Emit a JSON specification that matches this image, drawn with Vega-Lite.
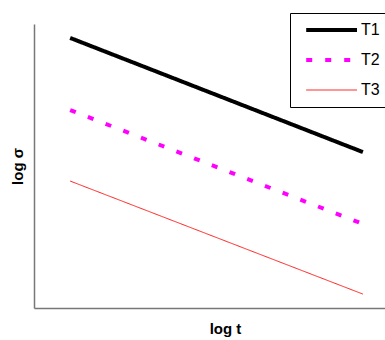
{
  "$schema": "https://vega.github.io/schema/vega-lite/v6.json",
  "width": 351,
  "height": 284,
  "autosize": "none",
  "padding": {"left": 34, "top": 24, "right": 0, "bottom": 32},
  "background": "white",
  "config": {
    "view": {"stroke": null},
    "font": "Liberation Sans",
    "axis": {"grid": false, "ticks": false, "labels": false, "domainColor": "#777777", "domainWidth": 1.5, "titleFont": "Liberation Sans", "titleFontWeight": "bold", "titleFontSize": 15, "titleColor": "black"},
    "legend": {"title": null, "orient": "none", "legendX": 256, "legendY": -11, "strokeColor": "black", "padding": 9, "symbolType": "M-0.2,0H12.5", "symbolSize": 64, "labelFontSize": 16, "labelFont": "Liberation Sans", "labelColor": "black", "labelOffset": 46, "rowPadding": 14, "fillColor": "white"}
  },
  "data": {
    "values": [
      {"series": "T1", "x": 1.03, "y": 9.51},
      {"series": "T1", "x": 9.37, "y": 5.49},
      {"series": "T2", "x": 1.03, "y": 6.97},
      {"series": "T2", "x": 9.37, "y": 2.96},
      {"series": "T3", "x": 1.03, "y": 4.47},
      {"series": "T3", "x": 9.37, "y": 0.49}
    ]
  },
  "mark": {"type": "line"},
  "encoding": {
    "x": {"field": "x", "type": "quantitative", "scale": {"domain": [0, 10]}, "axis": {"title": "log t", "titlePadding": 13, "titleX": 191}},
    "y": {"field": "y", "type": "quantitative", "scale": {"domain": [0, 10]}, "axis": {"title": "log σ", "titlePadding": 9}},
    "color": {
      "field": "series", "type": "nominal",
      "scale": {"domain": ["T1", "T2", "T3"], "range": ["black", "#ff00ff", "#ff1a1a"]}
    },
    "strokeDash": {
      "field": "series", "type": "nominal",
      "scale": {"domain": ["T1", "T2", "T3"], "range": [[1, 0], [6, 13], [1, 0]]}
    },
    "strokeWidth": {
      "field": "series", "type": "nominal",
      "scale": {"type": "ordinal", "domain": ["T1", "T2", "T3"], "range": [4, 4, 1]}
    }
  }
}
